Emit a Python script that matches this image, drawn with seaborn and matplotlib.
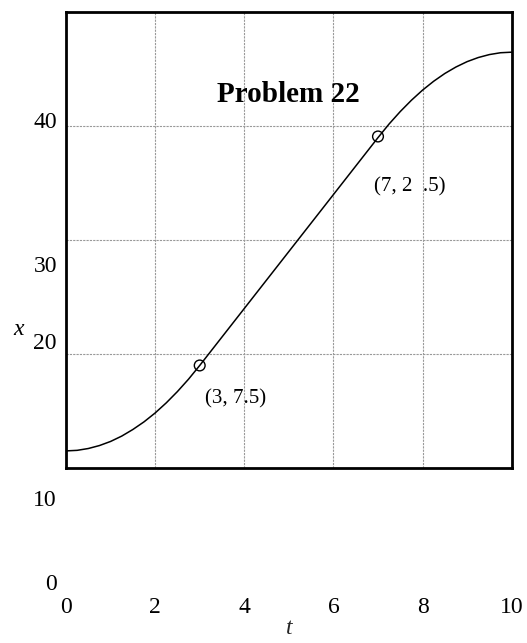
import matplotlib
matplotlib.use('Agg')
import matplotlib.pyplot as plt
import seaborn as sns
import pandas as pd

# position x (units)
t_vals = [0, 0.25, 0.5, 0.75, 1, 1.25, 1.5, 1.75, 2, 2.25, 2.5, 2.75, 3,
          3.5, 4, 4.5, 5, 5.5, 6, 6.5, 7,
          7.25, 7.5, 7.75, 8, 8.25, 8.5, 8.75, 9, 9.25, 9.5, 9.75, 10]
x_vals = [1.5, 1.55, 1.71, 1.97, 2.33, 2.80, 3.38, 4.05, 4.83, 5.72, 6.71,
          7.80, 9.0,
          11.5, 14.0, 16.5, 19.0, 21.5, 24.0, 26.5, 29.0,
          30.20, 31.29, 32.28, 33.17, 33.95, 34.63, 35.20, 35.67, 36.03,
          36.29, 36.45, 36.5]

# marked points and their labels
pt_t = [3, 7]
pt_x = [9.0, 29.1]
pt_labels = ['(3, 7.5)', '(7, 2  .5)']

x_ticks = [0, 2, 4, 6, 8, 10]
y_tick_labels = ['40', '30', '20', '10', '0']
title = 'Problem 22'

# layout (pixels from top of figure) of the floating y labels
y_label_px = [123, 266.5, 343.5, 500, 585]

W, H = 527, 643

sns.set_theme(style='white')
plt.rcParams['font.family'] = ['Liberation Serif', 'DejaVu Serif']

fig = plt.figure(figsize=(W / 100, H / 100), dpi=100)
ax = fig.add_axes([66 / W, 1 - 468 / H, 445.7 / W, 455.7 / H])

curve = pd.DataFrame({'t': t_vals, 'x': x_vals})
pts = pd.DataFrame({'t': pt_t, 'x': pt_x})

sns.lineplot(data=curve, x='t', y='x', ax=ax, color='black', linewidth=1.1,
             zorder=3)
sns.scatterplot(data=pts, x='t', y='x', ax=ax, s=60, facecolor='none',
                edgecolor='black', linewidth=1.0, zorder=4)

ax.set_xlim(0, 10)
ax.set_ylim(0, 40)
ax.set_xticks(x_ticks)
ax.set_xticklabels([str(v) for v in x_ticks])
ax.set_yticks([10, 20, 30])
ax.set_yticklabels([])
ax.tick_params(axis='both', length=0)
ax.tick_params(axis='x', pad=93, labelsize=17, colors='black')
ax.grid(True, color='#999999', linestyle=(0, (2, 1)), linewidth=0.8)
for s in ax.spines.values():
    s.set_color('black')
    s.set_linewidth(2.0)

ax.set_xlabel('t', fontsize=17, style='italic', labelpad=0)
ax.set_ylabel('')

ax.text(5, 32.1, title, ha='center', va='baseline', fontsize=21,
        fontweight='bold', color='black')
ax.text(3.12, 5.68, pt_labels[0], ha='left', va='baseline', fontsize=15,
        color='black')
ax.text(6.91, 24.26, pt_labels[1], ha='left', va='baseline', fontsize=15,
        color='black')

for lab, yp in zip(y_tick_labels, y_label_px):
    fig.text(57 / W, 1 - yp / H, lab, ha='right', va='center', fontsize=17,
             color='black')
fig.text(19 / W, 1 - 335 / H, 'x', ha='center', va='baseline', fontsize=17,
         style='italic', color='black')

fig.savefig('out.png', dpi=100)
